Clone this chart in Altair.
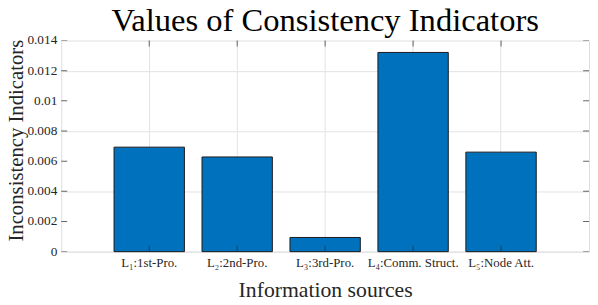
import altair as alt
import pandas as pd

categories = ["L₁:1st-Pro.", "L₂:2nd-Pro.", "L₃:3rd-Pro.", "L₄:Comm. Struct.", "L₅:Node Att."]
values = [0.00693, 0.00628, 0.00094, 0.01321, 0.0066]
y_ticks = [0, 0.002, 0.004, 0.006, 0.008, 0.01, 0.012, 0.014]
y_tick_labels = ["0", "0.002", "0.004", "0.006", "0.008", "0.01", "0.012", "0.014"]

W, H = 535, 214
FONT = "Liberation Serif"
AX = "#262626"

df = pd.DataFrame({"source": categories, "value": values})
ydf = pd.DataFrame({"value": y_ticks, "label": y_tick_labels})

xscale = alt.Scale(paddingInner=0.2, paddingOuter=0.6)
yscale = alt.Scale(domain=[0, 0.014], nice=False, zero=True)

x_axis = alt.Axis(title="Information sources", labelAngle=0, ticks=False, domain=False,
                  grid=True, bandPosition=0.5, gridColor="#e3e3e3",
                  labelFont=FONT, labelFontSize=13, labelColor=AX, labelPadding=5,
                  titleFont=FONT, titleFontSize=22, titleFontWeight="normal",
                  titleColor=AX, titlePadding=10)
y_axis = alt.Axis(title="Inconsistency Indicators", values=y_ticks, labels=False,
                  ticks=False, domain=False, grid=True, gridColor="#e3e3e3",
                  titleFont=FONT, titleFontSize=21, titleFontWeight="normal",
                  titleColor=AX, titleX=-56, titleY=101, titleBaseline="top",
                  titleAlign="center", titleAngle=-90)


def xe():
    return alt.X("source:N", sort=categories, scale=xscale, axis=x_axis)


def ye():
    return alt.Y("value:Q", scale=yscale, axis=y_axis)


bars = alt.Chart(df).mark_bar(color="#0072BD", stroke="#1a1a1a", strokeWidth=1).encode(
    x=xe(), y=ye())

tick_style = dict(clip=True, size=12, thickness=1, color=AX)
bot = alt.Chart(df).mark_tick(orient="vertical", **tick_style).encode(
    x=xe(), y=alt.datum(0))
top = alt.Chart(df).mark_tick(orient="vertical", **tick_style).encode(
    x=xe(), y=alt.datum(0.014))
left = alt.Chart(ydf).mark_tick(orient="horizontal", **tick_style).encode(
    y=ye(), x=alt.value(0))
right = alt.Chart(ydf).mark_tick(orient="horizontal", **tick_style).encode(
    y=ye(), x=alt.value(W))
ylabels = alt.Chart(ydf).mark_text(align="right", baseline="middle", font=FONT,
                                   fontSize=13.5, color=AX, dx=-4).encode(
    y=ye(), x=alt.value(0), text="label:N")

chart = alt.layer(bars, bot, top, left, right, ylabels).properties(
    width=W, height=H,
    title=alt.TitleParams("Values of Consistency Indicators", font=FONT, fontSize=33,
                          fontWeight="normal", color="black", anchor="middle", offset=-4),
    autosize=alt.AutoSizeParams(type="none"),
    padding={"left": 54, "top": 31, "right": 1, "bottom": 46},
).configure_view(stroke=AX, strokeWidth=1).configure(background="white")

chart.save("out.html", embed_options={"renderer": "svg", "actions": False})
